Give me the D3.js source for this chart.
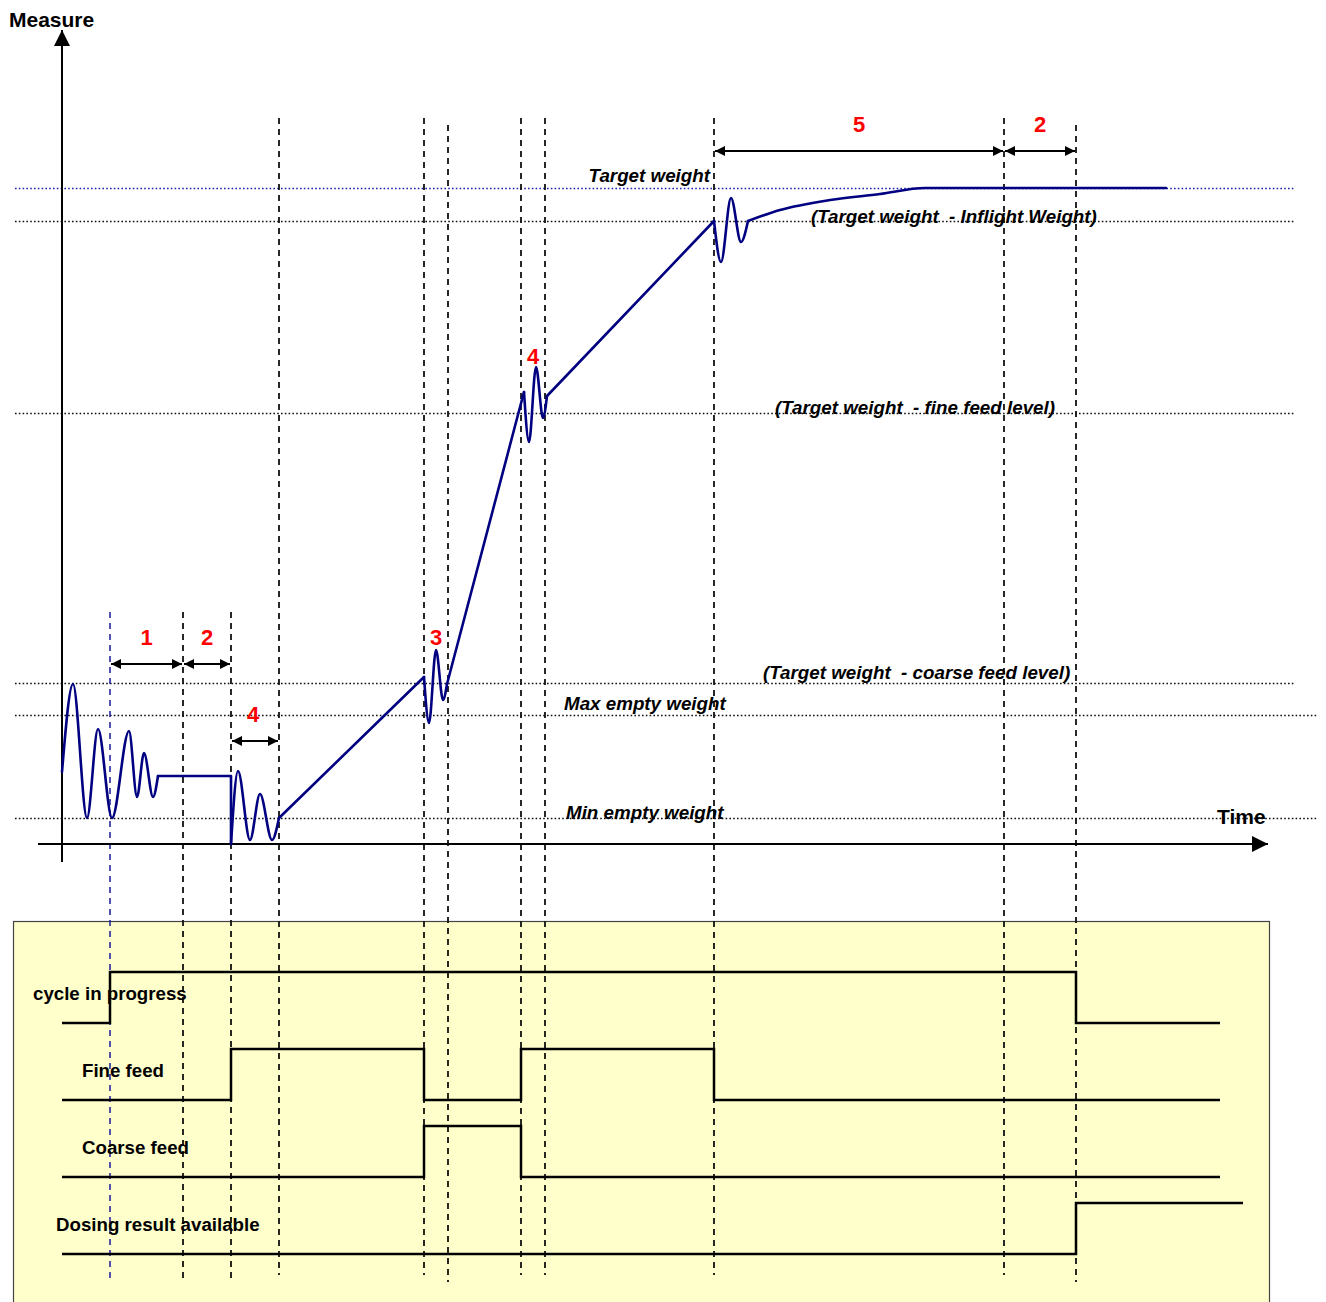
<!DOCTYPE html>
<meta charset="utf-8">
<style>
body{
  margin: 0px;
  background: white;
  font-family: Arial, "Liberation Sans", Helvetica, sans-serif;
}
text{
  white-space: pre;
}
.lbl{
  font-weight: bold;
  font-style: italic;
  font-size: 18.8px;
}
.sig-lbl{
  font-weight: bold;
  font-size: 18.7px;
}
.num{
  font-weight: bold;
  font-size: 22px;
  fill: #ff0000;
}
</style>
<div id="chart"></div>
<script src="https://cdn.jsdelivr.net/npm/d3@7"></script>
<script>
// weight levels (weight units above the time axis)
var levelNames  = ['Target weight', 'Inflight', 'Fine', 'Coarse', 'Max empty', 'Min empty']
var levelValues = [656, 623, 431, 161, 129, 26]
var levelTexts  = ['Target weight', '(Target weight  - Inflight Weight)', '(Target weight  - fine feed level)',
                   '(Target weight  - coarse feed level)', 'Max empty weight', 'Min empty weight']

// event times (vertical markers)
var markers = [110, 183, 231, 279, 424, 448, 521, 545, 714, 1004, 1076]

// weight curve, split in pieces: oscillations are smoothed, ramps are straight
var oscA   = [[62,72],[73,160],[87,26],[98,115],[112,26],[129,113],[137,47],[144,91],[153,47],[158,68]]
var holdA  = [[158,68],[231,68],[231,0]]
var oscB   = [[231,0],[238,73],[250,4],[260,50],[272,4],[279,26]]
var rampA  = [[279,26],[424,167]]
var oscC   = [[424,167],[429,121],[436,194],[443,144],[447,160]]
var rampB  = [[447,160],[524,452]]
var oscD   = [[524,452],[529,402],[536,477],[543,426],[547,448]]
var rampC  = [[547,448],[714,623]]
var oscE   = [[714,623],[721,582],[731,646],[741,602],[748,623]]
var settle = [[748,623],[780,634],[830,644],[880,650],[925,656],[1166,656]]

// phase spans: [from, to, label]
var spans = [
  [110, 183, '1'],
  [183, 231, '2'],
  [231, 279, '4'],
  [714, 1004, '5'],
  [1004, 1076, '2']
]
// extra phase numbers without arrows: [time, weight, label]
var phaseNums = [[436, 199, '3'], [533, 480, '4']]

// digital signals: [time, level]
var signalNames = ['cycle in progress', 'Fine feed', 'Coarse feed', 'Dosing result available']
var cycleInProgress = [[62,0],[110,1],[1076,0],[1220,0]]
var fineFeed        = [[62,0],[231,1],[424,0],[521,1],[714,0],[1220,0]]
var coarseFeed      = [[62,0],[424,1],[521,0],[1220,0]]
var dosingResult    = [[62,0],[1076,1],[1243,1]]
var signals = [cycleInProgress, fineFeed, coarseFeed, dosingResult]

var width = 1326, height = 1302

var svg = d3.select('#chart').append('svg')
    .attr('width', width)
    .attr('height', height)

var x = d3.scaleLinear().domain([0, width]).range([0, width])
var y = d3.scaleLinear().domain([0, 656]).range([844, 188])

// signal rows
var row = d3.scalePoint().domain(signalNames).range([1023, 1254])
var lvl = d3.scaleLinear().domain([0, 1]).range([0, -51])

var defs = svg.append('defs')
defs.append('marker')
    .attr('id', 'head')
    .attr('viewBox', '0 0 10 10')
    .attr('refX', 10).attr('refY', 5)
    .attr('markerWidth', 10).attr('markerHeight', 10)
    .attr('markerUnits', 'userSpaceOnUse')
    .attr('orient', 'auto-start-reverse')
  .append('path')
    .attr('d', 'M0,0 L10,5 L0,10 Z')
    .attr('fill', 'black')
defs.append('marker')
    .attr('id', 'axhead')
    .attr('viewBox', '0 0 10 10')
    .attr('refX', 10).attr('refY', 5)
    .attr('markerWidth', 17).attr('markerHeight', 16)
    .attr('markerUnits', 'userSpaceOnUse')
    .attr('orient', 'auto')
  .append('path')
    .attr('d', 'M0,0 L10,5 L0,10 Z')
    .attr('fill', 'black')

// yellow signal panel
svg.append('rect')
    .attr('x', 13.5).attr('y', 921.5)
    .attr('width', 1256).attr('height', 400)
    .attr('fill', '#ffffcc')
    .attr('stroke', '#444')
    .attr('stroke-width', 1.2)

// level lines
svg.selectAll('.level')
    .data(levelValues)
  .enter().append('line')
    .attr('x1', 15)
    .attr('x2', function(d){ return d > 150 ? 1294 : 1318 })
    .attr('y1', function(d){ return Math.round(y(d)) + .5 })
    .attr('y2', function(d){ return Math.round(y(d)) + .5 })
    .attr('stroke', function(d, i){ return i == 0 ? '#2020b0' : '#111' })
    .attr('stroke-width', 1.6)
    .attr('stroke-dasharray', '1.6,2.2')

// vertical event markers
var markerTop = function(t){ return t < 250 ? 612 : (t == 448 || t == 1076 ? 125 : 118) }
var markerBot = function(t){ return t < 250 ? 1280 : (t == 448 || t == 1076 ? 1282 : 1275) }
svg.selectAll('.marker')
    .data(markers)
  .enter().append('line')
    .attr('x1', function(d){ return x(d) })
    .attr('x2', function(d){ return x(d) })
    .attr('y1', markerTop)
    .attr('y2', markerBot)
    .attr('stroke', function(d, i){ return i == 0 ? '#1a1a9a' : '#111' })
    .attr('stroke-width', function(d, i){ return i == 0 ? 1.5 : 1.8 })
    .attr('stroke-dasharray', '6,5')

// axes (arrows only, no ticks)
svg.append('line')
    .attr('x1', x(62)).attr('x2', x(62))
    .attr('y1', 862).attr('y2', 30)
    .attr('stroke', 'black').attr('stroke-width', 2)
    .attr('marker-end', 'url(#axhead)')
svg.append('line')
    .attr('x1', x(38)).attr('x2', x(1268))
    .attr('y1', y(0)).attr('y2', y(0))
    .attr('stroke', 'black').attr('stroke-width', 2)
    .attr('marker-end', 'url(#axhead)')

svg.append('text')
    .attr('x', 9).attr('y', 27)
    .style('font-weight', 'bold').style('font-size', '21px')
    .text('Measure')
svg.append('text')
    .attr('x', 1217).attr('y', 824)
    .style('font-weight', 'bold').style('font-size', '21px')
    .text('Time')

// level labels
var labelX  = [710, 811, 775, 763, 564, 566]
var labelDy = [-6, 2, 1, -4, -5, 1]
svg.selectAll('.lbl')
    .data(levelTexts)
  .enter().append('text')
    .attr('class', 'lbl')
    .attr('x', function(d, i){ return x(labelX[i]) })
    .attr('y', function(d, i){ return y(levelValues[i]) + labelDy[i] })
    .attr('text-anchor', function(d, i){ return i == 0 ? 'end' : 'start' })
    .text(function(d){ return d })

// weight curve
var smooth = d3.line().x(function(d){ return x(d[0]) }).y(function(d){ return y(d[1]) }).curve(d3.curveMonotoneX)
var straight = d3.line().x(function(d){ return x(d[0]) }).y(function(d){ return y(d[1]) })
var pieces = [
  [oscA, smooth], [holdA, straight], [oscB, smooth], [rampA, straight],
  [oscC, smooth], [rampB, straight], [oscD, smooth], [rampC, straight],
  [oscE, smooth], [settle, smooth]
]
svg.selectAll('.weight')
    .data(pieces)
  .enter().append('path')
    .attr('d', function(d){ return d[1](d[0]) })
    .attr('fill', 'none')
    .attr('stroke', '#000080')
    .attr('stroke-width', 2.6)
    .attr('stroke-linejoin', 'round')
    .attr('stroke-linecap', 'round')

// phase spans with double arrows
var spanY = function(d){ return d[0] < 231 ? y(180) : d[0] < 300 ? y(103) : y(693) }
svg.selectAll('.span')
    .data(spans)
  .enter().append('line')
    .attr('x1', function(d){ return x(d[0]) + 1 })
    .attr('x2', function(d){ return x(d[1]) - 1 })
    .attr('y1', spanY)
    .attr('y2', spanY)
    .attr('stroke', 'black')
    .attr('stroke-width', 2)
    .attr('marker-start', 'url(#head)')
    .attr('marker-end', 'url(#head)')

svg.selectAll('.num')
    .data(spans)
  .enter().append('text')
    .attr('class', 'num')
    .attr('x', function(d){ return x((d[0] + d[1]) / 2) + (d[0] == 231 ? -2 : 0) })
    .attr('y', function(d){ return spanY(d) - 19 })
    .attr('text-anchor', 'middle')
    .text(function(d){ return d[2] })

svg.selectAll('.num2')
    .data(phaseNums)
  .enter().append('text')
    .attr('class', 'num')
    .attr('x', function(d){ return x(d[0]) })
    .attr('y', function(d){ return y(d[1]) })
    .attr('text-anchor', 'middle')
    .text(function(d){ return d[2] })

// signals
var step = d3.line().curve(d3.curveStepAfter)
svg.selectAll('.signal')
    .data(signals)
  .enter().append('path')
    .attr('d', function(d, i){
      var base = row(signalNames[i])
      return step(d.map(function(p){ return [x(p[0]), base + lvl(p[1])] }))
    })
    .attr('fill', 'none')
    .attr('stroke', '#000')
    .attr('stroke-width', 2.5)

var sigLabelX = [33, 82, 82, 56]
svg.selectAll('.sig-lbl')
    .data(signalNames)
  .enter().append('text')
    .attr('class', 'sig-lbl')
    .attr('x', function(d, i){ return sigLabelX[i] })
    .attr('y', function(d){ return row(d) - 23 })
    .text(function(d){ return d })
</script>
